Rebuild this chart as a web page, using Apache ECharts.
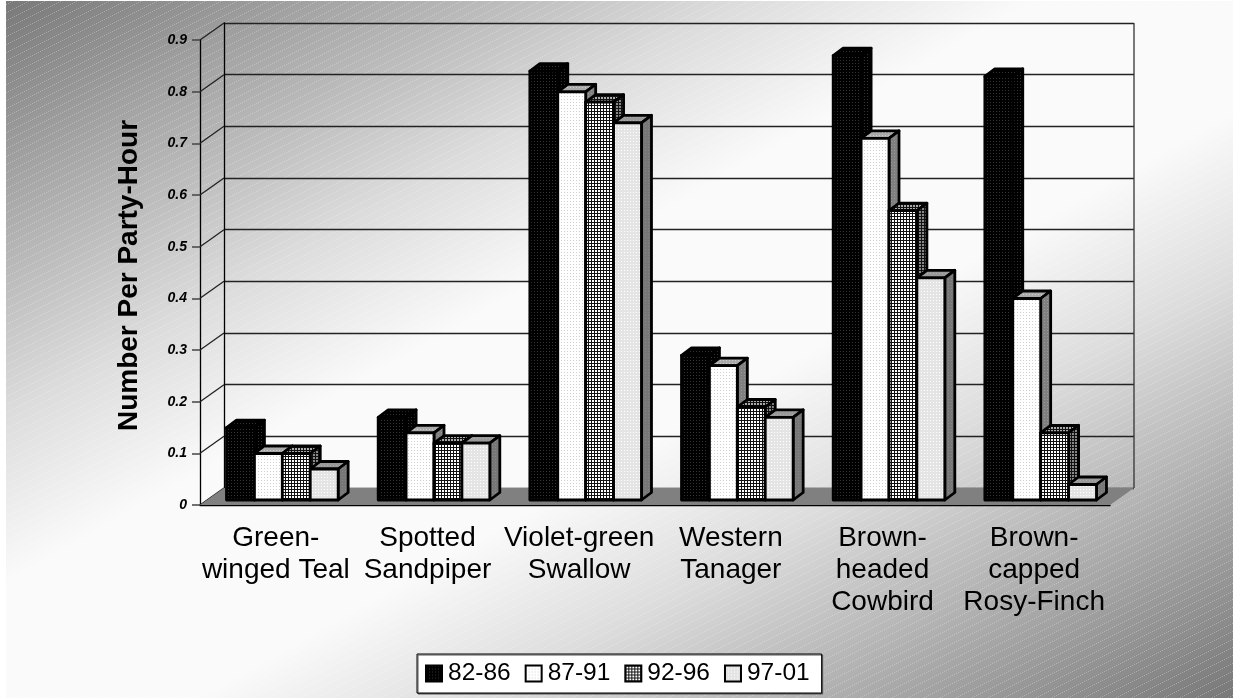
<!DOCTYPE html>
<html>
<head>
<meta charset="utf-8">
<style>
  html, body { margin: 0; padding: 0; background: #fff; }
  #chart { width: 1233px; height: 698px; }
</style>
<script src="https://cdn.jsdelivr.net/npm/echarts@6/dist/echarts.min.js"></script>
</head>
<body>
<div id="chart"></div>
<script>
var categories = ['Green-\nwinged Teal', 'Spotted\nSandpiper', 'Violet-green\nSwallow', 'Western\nTanager', 'Brown-\nheaded\nCowbird', 'Brown-\ncapped\nRosy-Finch'];
var periods = ['82-86', '87-91', '92-96', '97-01'];
var values8286 = [0.14, 0.16, 0.83, 0.28, 0.86, 0.82];
var values8791 = [0.09, 0.13, 0.79, 0.26, 0.70, 0.39];
var values9296 = [0.09, 0.11, 0.77, 0.18, 0.56, 0.13];
var values9701 = [0.06, 0.11, 0.73, 0.16, 0.43, 0.03];
var yTicks = [0, 0.1, 0.2, 0.3, 0.4, 0.5, 0.6, 0.7, 0.8, 0.9];
var yTitle = 'Number Per Party-Hour';

// pattern fills, small canvas tiles
function dots(bg, fg, step) {
  var c = document.createElement('canvas');
  c.width = step; c.height = step;
  var g = c.getContext('2d');
  g.fillStyle = bg; g.fillRect(0, 0, step, step);
  g.fillStyle = fg; g.fillRect(0, 0, 1, 1);
  return { image: c, repeat: 'repeat' };
}
function mesh(bg, fg) {
  var c = document.createElement('canvas');
  c.width = 3; c.height = 3;
  var g = c.getContext('2d');
  g.fillStyle = bg; g.fillRect(0, 0, 3, 3);
  g.fillStyle = fg; g.fillRect(0, 0, 3, 1); g.fillRect(0, 0, 1, 3);
  return { image: c, repeat: 'repeat' };
}
function stripes() {
  var c = document.createElement('canvas');
  c.width = 16; c.height = 8;
  var g = c.getContext('2d');
  g.fillStyle = 'rgba(255,255,255,0.28)';
  for (var x = 0; x < 16; x += 2) g.fillRect(x, 7 - Math.floor(x / 2), 1, 1);
  return { image: c, repeat: 'repeat' };
}

var faces = [
  { front: dots('#000', '#333', 3), top: dots('#000', '#333', 3), side: dots('#000', '#333', 3) },
  { front: dots('#fff', '#d0d0d0', 3), top: dots('#aaa', '#ccc', 3), side: dots('#808080', '#999', 3) },
  { front: mesh('#fff', '#111'), top: mesh('#aaa', '#111'), side: mesh('#888', '#111') },
  { front: dots('#e4e4e4', '#fff', 3), top: dots('#999', '#aaa', 3), side: dots('#777', '#888', 3) }
];

var wallDX = 24, wallDY = -17;   // front plane to back wall
var barDX = 6.5, barDY = -5;     // front plane to bar fronts
var sideDX = 10, sideDY = -7.5;  // bar depth
var barRatio = 0.184;

function barSeries(name, values, idx) {
  return {
    name: name,
    type: 'custom',
    xAxisIndex: 0,
    yAxisIndex: 0,
    clip: false,
    z: 5 + idx,
    silent: true,
    encode: { x: 0, y: 1 },
    data: values.map(function (v, i) { return [i, v]; }),
    renderItem: function (params, api) {
      var w = api.size([1, 0])[0] * barRatio;
      var top = api.coord([api.value(0), api.value(1)]);
      var base = api.coord([api.value(0), 0]);
      var x0 = top[0] + barDX + (idx - 2) * w;
      var x1 = x0 + w;
      var y0 = top[1] + barDY;
      var y1 = base[1] + barDY;
      var line = { stroke: '#000', lineWidth: 2.8, lineJoin: 'round' };
      var f = faces[idx];
      return {
        type: 'group',
        children: [
          { type: 'polygon', shape: { points: [[x0, y0], [x1, y0], [x1 + sideDX, y0 + sideDY], [x0 + sideDX, y0 + sideDY]] }, style: Object.assign({ fill: f.top }, line) },
          { type: 'polygon', shape: { points: [[x1, y0], [x1 + sideDX, y0 + sideDY], [x1 + sideDX, y1 + sideDY], [x1, y1]] }, style: Object.assign({ fill: f.side }, line) },
          { type: 'polygon', shape: { points: [[x0, y0], [x1, y0], [x1, y1], [x0, y1]] }, style: Object.assign({ fill: f.front }, line) }
        ]
      };
    }
  };
}

var seriesList = [
  {
    // side wall lines joining the front ticks to the back gridlines
    type: 'custom', xAxisIndex: 0, yAxisIndex: 0, clip: false, silent: true, z: 2,
    data: yTicks.map(function (v) { return [0, v]; }),
    renderItem: function (params, api) {
      var y = api.coord([0, api.value(1)])[1];
      var x = params.coordSys.x;
      return { type: 'line', shape: { x1: x, y1: y, x2: x + wallDX, y2: y + wallDY }, style: { stroke: '#222', lineWidth: 1.3 } };
    }
  },
  {
    // floor and right edge of the back wall
    type: 'custom', xAxisIndex: 0, yAxisIndex: 0, clip: false, silent: true, z: 3,
    data: [[0, 0]],
    renderItem: function (params, api) {
      var cs = params.coordSys;
      var y = api.coord([0, 0])[1];
      var top = api.coord([0, yTicks[yTicks.length - 1]])[1];
      var xr = cs.x + cs.width;
      return {
        type: 'group',
        children: [
          { type: 'line', shape: { x1: xr + wallDX, y1: top + wallDY, x2: xr + wallDX, y2: y + wallDY }, style: { stroke: '#333', lineWidth: 1.3 } },
          { type: 'polygon', shape: { points: [[cs.x, y], [xr, y], [xr + wallDX, y + wallDY], [cs.x + wallDX, y + wallDY]] }, style: { fill: '#808080', stroke: 'none' } }
        ]
      };
    }
  }
].concat([
  barSeries(periods[0], values8286, 0),
  barSeries(periods[1], values8791, 1),
  barSeries(periods[2], values9296, 2),
  barSeries(periods[3], values9701, 3)
]);

var chart = echarts.init(document.getElementById('chart'));
chart.setOption({
  animation: false,
  backgroundColor: '#fff',
  textStyle: { fontFamily: '"Liberation Sans", Arial, sans-serif' },
  graphic: [
    {
      type: 'rect', z: -10, silent: true,
      shape: { x: 6, y: 1, width: 1227, height: 697 },
      style: {
        fill: new echarts.graphic.LinearGradient(317, -180, 916, 878, [
          { offset: 0, color: '#787878' },
          { offset: 0.12, color: '#a0a0a0' },
          { offset: 0.3, color: '#dcdcdc' },
          { offset: 0.42, color: '#fafafa' },
          { offset: 0.58, color: '#fafafa' },
          { offset: 0.7, color: '#dcdcdc' },
          { offset: 0.88, color: '#a0a0a0' },
          { offset: 1, color: '#787878' }
        ], true)
      }
    },
    { type: 'rect', z: -9, silent: true, shape: { x: 6, y: 1, width: 1227, height: 697 }, style: { fill: stripes() } }
  ],
  legend: {
    left: 417,
    top: 654,
    orient: 'horizontal',
    icon: 'rect',
    itemWidth: 16,
    itemHeight: 16,
    itemGap: 14,
    padding: [7, 12, 7, 8],
    backgroundColor: '#fff',
    borderColor: '#000',
    borderWidth: 1,
    shadowColor: '#555',
    shadowBlur: 0,
    shadowOffsetX: 1,
    shadowOffsetY: 1,
    textStyle: { fontSize: 24.5, color: '#000', fontFamily: '"Liberation Sans", Arial, sans-serif', padding: [0, 0, 0, 1] },
    data: periods.map(function (p, i) {
      return { name: p, itemStyle: { color: faces[i].front, borderColor: '#000', borderWidth: 2 } };
    })
  },
  grid: [
    { left: 200, right: 123, top: 40, bottom: 193 },
    { left: 224, right: 99, top: 23, bottom: 210 }
  ],
  xAxis: [
    {
      type: 'category',
      gridIndex: 0,
      data: categories,
      boundaryGap: true,
      axisLine: { lineStyle: { color: '#000', width: 1.3 } },
      axisTick: { length: 10, alignWithLabel: false, lineStyle: { color: '#000', width: 1.3 } },
      axisLabel: { interval: 0, fontSize: 28, lineHeight: 32, color: '#000', margin: 17 }
    },
    {
      type: 'category',
      gridIndex: 1,
      data: categories,
      axisLine: { show: false },
      axisTick: { show: false },
      axisLabel: { show: false }
    }
  ],
  yAxis: [
    {
      type: 'value',
      gridIndex: 0,
      min: 0,
      max: 0.9,
      interval: 0.1,
      name: yTitle,
      nameLocation: 'middle',
      nameRotate: 90,
      nameGap: 57,
      nameTextStyle: { fontSize: 28, fontWeight: 'bold', color: '#000', padding: [0, 6, 0, 0] },
      axisLine: { show: true, lineStyle: { color: '#000', width: 1.3 } },
      axisTick: { show: true, length: 8, lineStyle: { color: '#444', width: 1.5 } },
      axisLabel: {
        fontSize: 14,
        fontWeight: 'bold',
        fontStyle: 'italic',
        color: '#000',
        margin: 13,
        formatter: function (v) { return v === 0 ? '0' : v.toFixed(1); }
      },
      splitLine: { show: false }
    },
    {
      type: 'value',
      gridIndex: 1,
      min: 0,
      max: 0.9,
      interval: 0.1,
      axisLine: { show: true, lineStyle: { color: '#000', width: 1.3 } },
      axisTick: { show: false },
      axisLabel: { show: false },
      splitLine: { show: true, lineStyle: { color: '#222', width: 1.3 } }
    }
  ],
  series: seriesList
});
</script>
</body>
</html>
